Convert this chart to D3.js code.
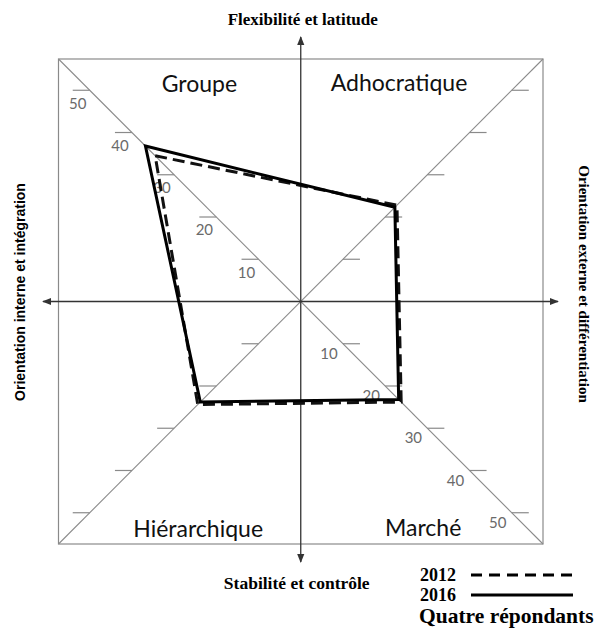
<!DOCTYPE html>
<html>
<head>
<meta charset="utf-8">
<script src="https://cdn.jsdelivr.net/npm/d3@7"></script>
<style>
  body { margin: 0; background: #fff; }
</style>
</head>
<body>
<div id="container"></div>
<script>
/* DATA */
const quadrants = ["Groupe", "Adhocratique", "Marché", "Hiérarchique"];
const values2012 = [34.5, 22.8, 23.8, 24.4];
const values2016 = [36.8, 22.3, 23.2, 23.8];
const tickValues = [10, 20, 30, 40, 50];
const years = ["2012", "2016"];

/* CONSTANTS */
const width = 613, height = 637;
// direction of each quadrant's diagonal (x sign, y sign)
const dirs = [[-1, 1], [1, 1], [1, -1], [-1, -1]];

const svg = d3.select('#container')
  .append('svg')
  .attr('width', width)
  .attr('height', height);

// scales share units: 50 on the diagonal ~ 211px each way
const xScale = d3.scaleLinear().domain([-57.4, 57.4]).range([58.5, 543]);
const yScale = d3.scaleLinear().domain([-57.4, 57.4]).range([544, 59]);
const cx = xScale(0), cy = yScale(0);

// arrow marker
svg.append('defs').append('marker')
  .attr('id', 'arrow')
  .attr('viewBox', '0 0 10 10')
  .attr('refX', 9).attr('refY', 5)
  .attr('markerWidth', 7).attr('markerHeight', 7)
  .attr('orient', 'auto-start-reverse')
  .append('path')
  .attr('d', 'M0,1 L10,5 L0,9 z')
  .attr('fill', '#333');

// frame square
svg.append('rect')
  .attr('x', xScale(-57.4)).attr('y', yScale(57.4))
  .attr('width', xScale(57.4) - xScale(-57.4))
  .attr('height', yScale(-57.4) - yScale(57.4))
  .attr('fill', 'none').attr('stroke', '#8a8a8a').attr('stroke-width', 1.2);

// diagonals
svg.append('line')
  .attr('x1', xScale(-57.4)).attr('y1', yScale(57.4))
  .attr('x2', xScale(57.4)).attr('y2', yScale(-57.4))
  .attr('stroke', '#8a8a8a').attr('stroke-width', 1.1);
svg.append('line')
  .attr('x1', xScale(-57.4)).attr('y1', yScale(-57.4))
  .attr('x2', xScale(57.4)).attr('y2', yScale(57.4))
  .attr('stroke', '#8a8a8a').attr('stroke-width', 1.1);

// main axes with arrows
svg.append('line')
  .attr('x1', cx).attr('y1', cy).attr('x2', 43).attr('y2', cy)
  .attr('stroke', '#333').attr('stroke-width', 1.3).attr('marker-end', 'url(#arrow)');
svg.append('line')
  .attr('x1', cx).attr('y1', cy).attr('x2', 558).attr('y2', cy)
  .attr('stroke', '#333').attr('stroke-width', 1.3).attr('marker-end', 'url(#arrow)');
svg.append('line')
  .attr('x1', cx).attr('y1', cy).attr('x2', cx).attr('y2', 37)
  .attr('stroke', '#333').attr('stroke-width', 1.3).attr('marker-end', 'url(#arrow)');
svg.append('line')
  .attr('x1', cx).attr('y1', cy).attr('x2', cx).attr('y2', 562)
  .attr('stroke', '#333').attr('stroke-width', 1.3).attr('marker-end', 'url(#arrow)');

// ticks on every diagonal
const tickData = [];
dirs.forEach((d, i) => tickValues.forEach(v => tickData.push({ q: i, sx: d[0], sy: d[1], v })));

svg.selectAll('line.tick')
  .data(tickData)
  .join('line')
  .attr('class', 'tick')
  .attr('x1', d => xScale(d.sx * d.v))
  .attr('x2', d => xScale(d.sx * d.v) + d.sx * 17)
  .attr('y1', d => yScale(d.sy * d.v))
  .attr('y2', d => yScale(d.sy * d.v))
  .attr('stroke', '#8a8a8a').attr('stroke-width', 1.2);

// tick labels only on Groupe and Marché diagonals
svg.selectAll('text.tick-label')
  .data(tickData.filter(d => d.q === 0 || d.q === 2))
  .join('text')
  .attr('class', 'tick-label')
  .attr('x', d => xScale(d.sx * d.v) + (d.q === 0 ? -12 : -14))
  .attr('y', d => yScale(d.sy * d.v) + (d.q === 0 ? 13 : 10))
  .attr('dy', '0.35em')
  .attr('text-anchor', 'middle')
  .attr('font-family', 'Lato, sans-serif')
  .attr('font-size', '15px')
  .attr('fill', '#6a6a6a')
  .text(d => d.v);

// quadrant labels
const quadPos = [[-24, 51.5], [23.3, 51.7], [29, -53.5], [-24.3, -53.9]];
svg.selectAll('text.quad')
  .data(quadrants)
  .join('text')
  .attr('class', 'quad')
  .attr('x', (d, i) => xScale(quadPos[i][0]))
  .attr('y', (d, i) => yScale(quadPos[i][1]))
  .attr('dy', '0.35em')
  .attr('text-anchor', 'middle')
  .attr('font-family', 'Lato, sans-serif')
  .attr('font-size', '23px')
  .attr('fill', '#111')
  .text(d => d);

// polygons
const polyPoints = vals => vals.map((v, i) => [xScale(dirs[i][0] * v), yScale(dirs[i][1] * v)]);
const line = d3.line().curve(d3.curveLinearClosed);

svg.append('path')
  .attr('d', line(polyPoints(values2012)))
  .attr('fill', 'none')
  .attr('stroke', '#111')
  .attr('stroke-width', 3)
  .attr('stroke-dasharray', '12,6');

svg.append('path')
  .attr('d', line(polyPoints(values2016)))
  .attr('fill', 'none')
  .attr('stroke', '#000')
  .attr('stroke-width', 3)
  .attr('stroke-linejoin', 'miter');

// axis titles
svg.append('text')
  .attr('x', cx + 2).attr('y', 25)
  .attr('text-anchor', 'middle')
  .attr('font-family', 'Liberation Serif, serif')
  .attr('font-weight', 'bold')
  .attr('font-size', '17px')
  .text('Flexibilité et latitude');

svg.append('text')
  .attr('x', cx - 4).attr('y', 589)
  .attr('text-anchor', 'middle')
  .attr('font-family', 'Liberation Serif, serif')
  .attr('font-weight', 'bold')
  .attr('font-size', '17.5px')
  .text('Stabilité et contrôle');

svg.append('text')
  .attr('transform', 'translate(20, 292) rotate(-90)')
  .attr('dy', '0.35em')
  .attr('text-anchor', 'middle')
  .attr('font-family', 'Liberation Sans, Arial, sans-serif')
  .attr('font-weight', 'bold')
  .attr('font-size', '14px')
  .text('Orientation interne et intégration');

svg.append('text')
  .attr('transform', 'translate(584, 284) rotate(90)')
  .attr('dy', '0.35em')
  .attr('text-anchor', 'middle')
  .attr('font-family', 'Liberation Serif, serif')
  .attr('font-weight', 'bold')
  .attr('font-size', '15px')
  .text('Orientation externe et différentiation');

// legend
const legend = svg.append('g');
legend.selectAll('text.year')
  .data(years)
  .join('text')
  .attr('class', 'year')
  .attr('x', 420)
  .attr('y', (d, i) => 581 + i * 20)
  .attr('font-family', 'Liberation Serif, serif')
  .attr('font-weight', 'bold')
  .attr('font-size', '18px')
  .text(d => d);

legend.selectAll('line.key')
  .data(years)
  .join('line')
  .attr('class', 'key')
  .attr('x1', 471).attr('x2', 573)
  .attr('y1', (d, i) => 575 + i * 20)
  .attr('y2', (d, i) => 575 + i * 20)
  .attr('stroke', '#000')
  .attr('stroke-width', 3)
  .attr('stroke-dasharray', (d, i) => i === 0 ? '11,7' : null);

legend.append('text')
  .attr('x', 419).attr('y', 623)
  .attr('font-family', 'Liberation Serif, serif')
  .attr('font-weight', 'bold')
  .attr('font-size', '21.5px')
  .text('Quatre répondants');
</script>
</body>
</html>
